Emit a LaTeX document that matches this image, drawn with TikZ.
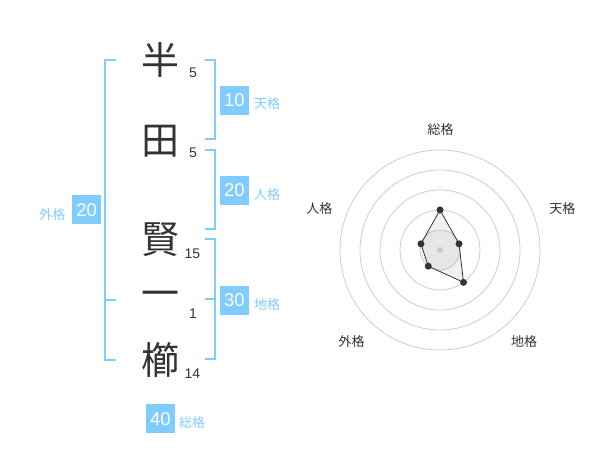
\documentclass[tikz,border=0pt]{standalone}
\usepackage{fontspec}
\setmainfont{Liberation Sans}
\newfontfamily\cjk{Noto Sans CJK JP}
\definecolor{kblue}{RGB}{128,204,255}
\definecolor{kdark}{RGB}{51,51,51}
\begin{document}
\begin{tikzpicture}[x=1pt,y=1pt,
 bigchar/.style={font=\cjk\fontsize{38}{38}\selectfont, text=kdark, inner sep=0pt},
 strokenum/.style={font=\fontsize{14}{14}\selectfont, text=kdark, inner sep=0pt},
 scorebox/.style={fill=kblue, text=white, minimum width=29pt, minimum height=29pt, inner sep=0pt, font=\fontsize{18.5}{18.5}\selectfont},
 kaku/.style={font=\cjk\fontsize{13}{13}\selectfont, text=kblue, inner sep=0pt},
 bracket/.style={draw=kblue, line width=2pt},
 ring/.style={draw=black!20, line width=0.8pt},
 axislabel/.style={font=\cjk\fontsize{13}{13}\selectfont, text=kdark, inner sep=0pt},
 marker/.style={circle, fill=kdark, inner sep=0pt, minimum size=7pt},
]
\useasboundingbox (0,0) rectangle (600,470);
% characters
\node[bigchar] (c1) at (160,410) {半};
\node[bigchar] (c2) at (160,328.5) {田};
\node[bigchar] (c3) at (160,230) {賢};
\node[bigchar] (c4) at (160,171) {一};
\node[bigchar] (c5) at (160,110) {櫛};
% stroke counts
\node[strokenum] (s1) at (193,397.3) {5};
\node[strokenum] (s2) at (193,317.3) {5};
\node[strokenum] (s3) at (192.5,216.7) {15};
\node[strokenum] (s4) at (193,156.7) {1};
\node[strokenum] (s5) at (192.5,96.7) {14};
% brackets
\draw[bracket] (116,410) -- (105,410) -- (105,110) -- (116,110);
\draw[bracket] (105,170) -- (116,170);
\draw[bracket] (205,410) -- (215,410) -- (215,330.5) -- (205,330.5);
\draw[bracket] (205,320) -- (215,320) -- (215,240.5) -- (205,240.5);
\draw[bracket] (205,230.5) -- (215,230.5) -- (215,110.5) -- (205,110.5);
\draw[bracket] (205,170.5) -- (215,170.5);
% score boxes
\node[scorebox] (b1) at (234.5,369.7) {10};
\node[kaku, anchor=west] (l1) at (254,366) {天格};
\node[scorebox] (b2) at (234.5,279.7) {20};
\node[kaku, anchor=west] (l2) at (254,275.7) {人格};
\node[scorebox] (b3) at (234.5,169.7) {30};
\node[kaku, anchor=west] (l3) at (254,165.7) {地格};
\node[scorebox] (b4) at (86.7,260) {20};
\node[kaku, anchor=east] (l4) at (65.5,255.7) {外格};
\node[scorebox] (b5) at (160.5,51) {40};
\node[kaku, anchor=west] (l5) at (179,47.3) {総格};
% radar
\coordinate (c) at (440,220);
\fill[black!4] (c) circle (20);
\foreach \r in {20,40,60,80,100} \draw[ring] (c) circle (\r);
\path (c) ++(90:40) coordinate (p1);
\path (c) ++(18:20) coordinate (p2);
\path (c) ++(-54:40) coordinate (p3);
\path (c) ++(-126:20) coordinate (p4);
\path (c) ++(162:20) coordinate (p5);
\filldraw[fill=black, fill opacity=0.06, draw=kdark, line width=0.8pt] (p1) -- (p2) -- (p3) -- (p4) -- (p5) -- cycle;
\fill[black!22] (c) circle (3);
\foreach \p in {p1,p2,p3,p4,p5} \node[marker] at (\p) {};
\node[axislabel] (a1) at (440.7,340) {総格};
\node[axislabel] (a2) at (562.3,261.7) {天格};
\node[axislabel] (a3) at (524,128.3) {地格};
\node[axislabel] (a4) at (351.7,128.3) {外格};
\node[axislabel] (a5) at (319.3,261.7) {人格};
\end{tikzpicture}
\end{document}
